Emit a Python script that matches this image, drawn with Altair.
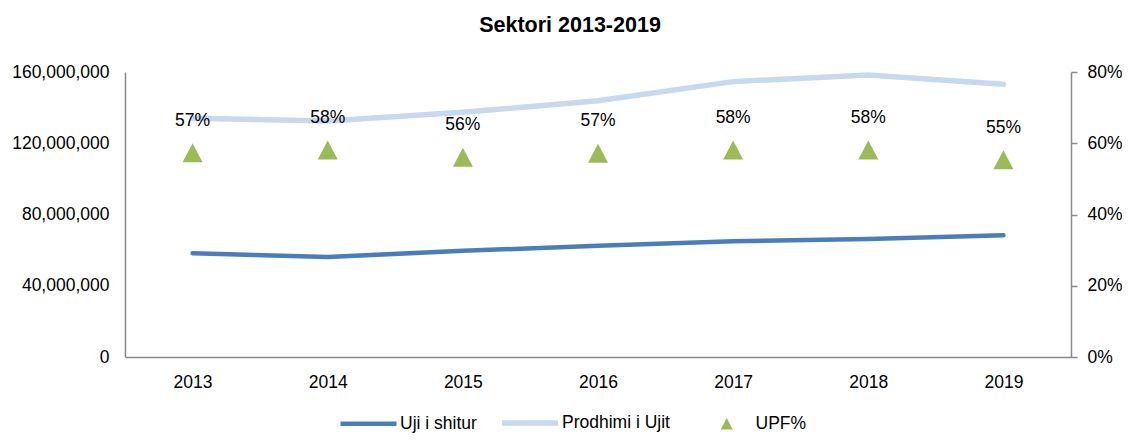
import altair as alt
import pandas as pd

years = ["2013", "2014", "2015", "2016", "2017", "2018", "2019"]
uji_shitur = [58.3e6, 56.1e6, 59.6e6, 62.4e6, 65.0e6, 66.3e6, 68.3e6]
prodhimi = [134.0e6, 132.5e6, 137.4e6, 143.9e6, 154.6e6, 158.3e6, 153.1e6]
upf = [0.573, 0.581, 0.561, 0.572, 0.581, 0.581, 0.554]
line_series = ["Uji i shitur", "Prodhimi i Ujit"]
line_colors = ["#4A7EBB", "#C6D9F1"]
upf_name = "UPF%"
upf_color = "#9BBB59"

FONT = "Liberation Sans, Arial"
FS = 17.5
TRI = "M0,-0.95L1,0.95L-1,0.95Z"

lines_df = pd.DataFrame(
    {"year": years * 2,
     "value": uji_shitur + prodhimi,
     "series": [line_series[0]] * 7 + [line_series[1]] * 7}
)
upf_df = pd.DataFrame({"year": years, "upf": upf, "series": [upf_name] * 7})

x_enc = alt.X("year:N", sort=years,
              scale=alt.Scale(paddingInner=0, paddingOuter=0),
              axis=alt.Axis(title=None, labelAngle=0, ticks=False, labelPadding=16,
                            labelFontSize=FS, labelFont=FONT, labelColor="#000000",
                            domainColor="#898989", domainWidth=1.5, grid=False))

lines = alt.Chart(lines_df).mark_line(strokeCap="round").encode(
    x=x_enc,
    y=alt.Y("value:Q",
            scale=alt.Scale(domain=[0, 160e6], nice=False),
            axis=alt.Axis(title=None, orient="left", values=[0, 40e6, 80e6, 120e6, 160e6],
                          format=",.0f", ticks=False, labelPadding=16, grid=False,
                          labelFontSize=FS, labelFont=FONT, labelColor="#000000",
                          domainColor="#898989", domainWidth=1.5)),
    color=alt.Color("series:N", sort=line_series,
                    scale=alt.Scale(domain=line_series, range=line_colors),
                    legend=alt.Legend(title=None, orient="none", direction="horizontal",
                                      legendX=213, legendY=320,
                                      symbolType="stroke", symbolSize=3136,
                                      symbolStrokeWidth=5, labelOffset=1,
                                      columnPadding=14,
                                      labelFontSize=FS, labelFont=FONT,
                                      labelColor="#000000", labelLimit=300)),
    strokeWidth=alt.StrokeWidth("series:N",
                                scale=alt.Scale(domain=line_series, range=[4.5, 5.5]),
                                legend=None),
    detail="series:N",
)

right_axis = alt.Axis(title=None, orient="right", values=[0, 0.2, 0.4, 0.6, 0.8],
                      format=".0%", ticks=True, tickSize=6, tickColor="#898989",
                      tickWidth=1.5, labelPadding=10, grid=False,
                      labelFontSize=FS, labelFont=FONT, labelColor="#000000",
                      domainColor="#898989", domainWidth=1.5)
right_scale = alt.Scale(domain=[0, 0.8], nice=False)

tri = alt.Chart(upf_df).mark_point(
    filled=True, opacity=1, color=upf_color, size=400
).encode(
    x=x_enc,
    y=alt.Y("upf:Q", scale=right_scale, axis=right_axis),
    shape=alt.Shape("series:N", scale=alt.Scale(domain=[upf_name], range=[TRI]),
                    legend=alt.Legend(title=None, orient="none", direction="horizontal",
                                      legendX=593, legendY=343,
                                      symbolSize=144, symbolStrokeWidth=0,
                                      symbolFillColor=upf_color, symbolOpacity=1,
                                      labelOffset=20,
                                      labelFontSize=FS, labelFont=FONT,
                                      labelColor="#000000", labelLimit=300)),
)

labels = alt.Chart(upf_df).mark_text(
    dy=-32, fontSize=FS, font=FONT, color="#000000", baseline="middle"
).encode(
    x=x_enc,
    y=alt.Y("upf:Q", scale=right_scale, axis=right_axis),
    text=alt.Text("upf:Q", format=".0%"),
)

right = alt.layer(tri, labels)

chart = alt.layer(lines, right).resolve_scale(y="independent").properties(
    width=946, height=285,
    autosize=alt.AutoSizeParams(type="none"),
    padding={"left": 117, "top": 64, "right": 51, "bottom": 77},
    title=alt.TitleParams("Sektori 2013-2019", font=FONT, fontSize=21.5, fontWeight="bold",
                          color="#000000", anchor="middle", dx=-28, offset=27),
).configure_view(stroke=None)

chart.save("out.html", embed_options={"renderer": "svg", "actions": False})
